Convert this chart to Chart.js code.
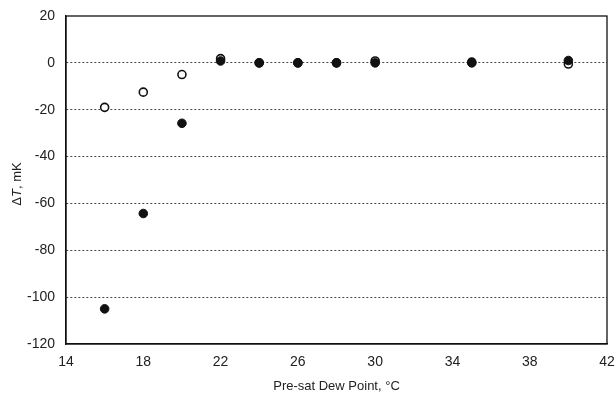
<!DOCTYPE html>
<html>
<head>
<meta charset="utf-8">
<script src="https://cdn.jsdelivr.net/npm/chart.js@4/dist/chart.umd.min.js"></script>
<style>
  html, body { margin: 0; padding: 0; background: #fff; overflow: hidden; }
</style>
</head>
<body>
<canvas id="dewChart" width="615" height="396"></canvas>
<script>
// dew point values (x) and temperature differences (mK)
const dewPoints = [16, 18, 20, 22, 24, 26, 28, 30, 35, 40];
const openSeries = [-19, -12.5, -5, 1.8, 0, 0, 0, 0.8, 0.3, -0.5];
const filledSeries = [-105, -64.3, -25.8, 0.8, 0, 0, 0, 0, 0, 1];
const xTicks = [14, 18, 22, 26, 30, 34, 38, 42];
const yTicks = [20, 0, -20, -40, -60, -80, -100, -120];

const FONT = '"Liberation Sans", Arial';

function toPoints(vals) {
  return dewPoints.map((x, i) => ({ x: x, y: vals[i] }));
}

// axis titles, y one has an italic T
const titlesPlugin = {
  id: 'titles',
  afterDraw(chart) {
    const ctx = chart.ctx;
    const area = chart.chartArea;
    ctx.save();
    ctx.fillStyle = '#222';
    ctx.textBaseline = 'middle';

    ctx.font = '13px ' + FONT;
    ctx.textAlign = 'center';
    ctx.fillText('Pre-sat Dew Point, \u00b0C', (area.left + area.right) / 2, 386);

    ctx.textAlign = 'left';
    ctx.translate(17, (area.top + area.bottom) / 2 + 4);
    ctx.rotate(-Math.PI / 2);
    const parts = [
      { t: '\u0394', f: '13px ' + FONT },
      { t: 'T', f: 'italic 13px ' + FONT },
      { t: ', mK', f: '13px ' + FONT }
    ];
    let total = 0;
    parts.forEach(p => { ctx.font = p.f; total += ctx.measureText(p.t).width; });
    let x = -total / 2;
    parts.forEach(p => {
      ctx.font = p.f;
      ctx.fillText(p.t, x, 0);
      x += ctx.measureText(p.t).width;
    });
    ctx.restore();
  }
};

const ctx = document.getElementById('dewChart').getContext('2d');
const chart = new Chart(ctx, {
  type: 'scatter',
  data: {
    datasets: [
      {
        label: 'filled',
        data: toPoints(filledSeries),
        pointRadius: 4.3,
        pointBackgroundColor: '#111',
        pointBorderColor: '#111',
        pointBorderWidth: 1,
        order: 1
      },
      {
        label: 'open',
        data: toPoints(openSeries),
        pointRadius: 4,
        pointBackgroundColor: '#fff',
        pointBorderColor: '#111',
        pointBorderWidth: 1.6,
        order: 2
      }
    ]
  },
  options: {
    responsive: false,
    animation: false,
    layout: { autoPadding: false, padding: { top: 16, right: 8, left: 0, bottom: 0 } },
    plugins: {
      legend: { display: false },
      tooltip: { enabled: false }
    },
    scales: {
      x: {
        type: 'linear',
        min: 14,
        max: 42,
        afterBuildTicks: s => { s.ticks = xTicks.map(v => ({ value: v })); },
        afterFit: s => { s.height = 52; s.paddingLeft = 0; s.paddingRight = 0; },
        grid: { display: false, drawTicks: false },
        border: { display: true, color: '#111', width: 1.3 },
        ticks: {
          color: '#222',
          padding: 10,
          maxRotation: 0,
          autoSkip: false,
          font: { family: FONT, size: 14 }
        }
      },
      y: {
        type: 'linear',
        min: -120,
        max: 20,
        afterBuildTicks: s => { s.ticks = yTicks.map(v => ({ value: v })); },
        afterFit: s => { s.width = 66; s.paddingTop = 0; s.paddingBottom = 0; },
        grid: {
          drawTicks: false,
          color: c => (c.tick.value === 20 || c.tick.value === -120) ? 'rgba(0,0,0,0)' : '#333',
          lineWidth: 0.9
        },
        border: { display: true, color: '#111', width: 1.3, dash: [2, 2] },
        ticks: {
          color: '#222',
          padding: 11,
          font: { family: FONT, size: 14 }
        }
      }
    }
  },
  plugins: [titlesPlugin, {
    id: 'frame',
    beforeDatasetsDraw(chart) {
      // solid box round the plot area
      const c = chart.ctx, a = chart.chartArea;
      c.save();
      c.strokeStyle = '#111';
      c.lineWidth = 1.3;
      c.setLineDash([]);
      c.strokeRect(a.left, a.top, a.right - a.left, a.bottom - a.top);
      c.restore();
    }
  }]
});
</script>
</body>
</html>
